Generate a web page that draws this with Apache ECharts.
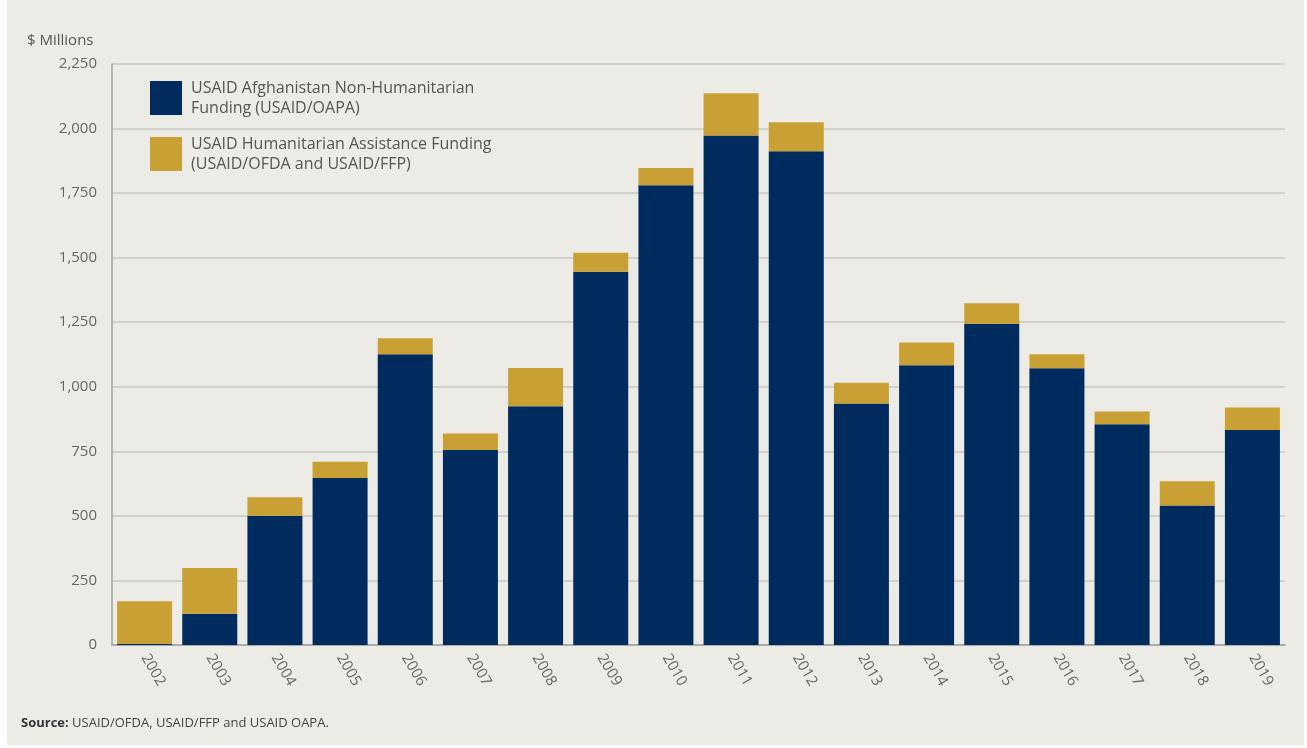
<!DOCTYPE html>
<html>
<head>
<meta charset="utf-8">
<script src="https://cdn.jsdelivr.net/npm/echarts@6/dist/echarts.min.js"></script>
<style>
  html, body { margin: 0; padding: 0; background: #ffffff; }
  #chart { width: 1307px; height: 748px; }
</style>
</head>
<body>
<div id="chart"></div>
<script>
// Fiscal years shown on the category axis
const years = ['2002','2003','2004','2005','2006','2007','2008','2009','2010',
               '2011','2012','2013','2014','2015','2016','2017','2018','2019'];

// USAID Afghanistan non-humanitarian funding (USAID/OAPA), $ millions
const nonHumanitarian = [5, 121, 501, 647, 1126, 755, 925, 1445, 1780,
                         1973, 1912, 935, 1083, 1244, 1072, 855, 540, 833];

// USAID humanitarian assistance funding (USAID/OFDA and USAID/FFP), $ millions
const humanitarian = [164, 177, 71, 63, 62, 64, 148, 74, 67,
                      164, 112, 81, 88, 79, 54, 49, 94, 87];

// Value-axis ticks
const yTicks = [0, 250, 500, 750, 1000, 1250, 1500, 1750, 2000, 2250];

const seriesNames = [
  'USAID Afghanistan Non-Humanitarian\nFunding (USAID/OAPA)',
  'USAID Humanitarian Assistance Funding\n(USAID/OFDA and USAID/FFP)'
];

const FONT = '"Open Sans", "Noto Sans", sans-serif';
const NAVY = '#002b5f';
const GOLD = '#c9a034';

const chart = echarts.init(document.getElementById('chart'), null, { renderer: 'canvas' });

chart.setOption({
  backgroundColor: '#ffffff',
  animation: false,
  textStyle: { fontFamily: FONT },
  graphic: [
    {
      type: 'rect', z: -10, silent: true,
      shape: { x: 7, y: 0, width: 1297, height: 745 },
      style: { fill: '#ecebe5' }
    },
    {
      type: 'text', left: 27, top: 33,
      style: { text: '$ Millions', fill: '#555555', font: '15px ' + FONT }
    },
    {
      type: 'text', left: 21, top: 717,
      style: {
        text: '{b|Source:} USAID/OFDA, USAID/FFP and USAID OAPA.',
        rich: {
          b: { fontWeight: 'bold', fontSize: 13, fontFamily: FONT, fill: '#333333' }
        },
        fontSize: 13, fontFamily: FONT, fill: '#444444'
      }
    }
  ],
  legend: {
    orient: 'vertical',
    left: 150, top: 78, padding: 0,
    itemWidth: 32, itemHeight: 34,
    itemGap: 16,
    icon: 'rect',
    selectedMode: false,
    textStyle: {
      color: '#555555', fontSize: 16, lineHeight: 20, fontFamily: FONT,
      padding: [0, 0, 0, 4]
    },
    data: seriesNames
  },
  grid: { left: 112, right: 22, top: 64, bottom: 103, containLabel: false },
  xAxis: {
    type: 'category',
    data: years,
    axisLine: { show: true, lineStyle: { color: '#a0a09c', width: 1.5 } },
    axisTick: { show: false },
    axisLabel: {
      rotate: -60, color: '#666666', fontSize: 15, fontFamily: FONT, margin: 10
    }
  },
  yAxis: {
    type: 'value',
    min: yTicks[0], max: yTicks[yTicks.length - 1], interval: yTicks[1] - yTicks[0],
    axisLine: { show: true, lineStyle: { color: '#a0a09c', width: 1.5 } },
    axisTick: { show: false },
    splitLine: { show: true, lineStyle: { color: '#c9c8c2', width: 1.5 } },
    axisLabel: {
      color: '#666666', fontSize: 15, fontFamily: FONT, margin: 15,
      formatter: v => v.toLocaleString('en-US')
    }
  },
  series: [
    {
      name: seriesNames[0], type: 'bar', stack: 'total',
      data: nonHumanitarian, barCategoryGap: '15.6%',
      itemStyle: { color: NAVY }
    },
    {
      name: seriesNames[1], type: 'bar', stack: 'total',
      data: humanitarian, barCategoryGap: '15.6%',
      itemStyle: { color: GOLD }
    }
  ]
});
</script>
</body>
</html>
